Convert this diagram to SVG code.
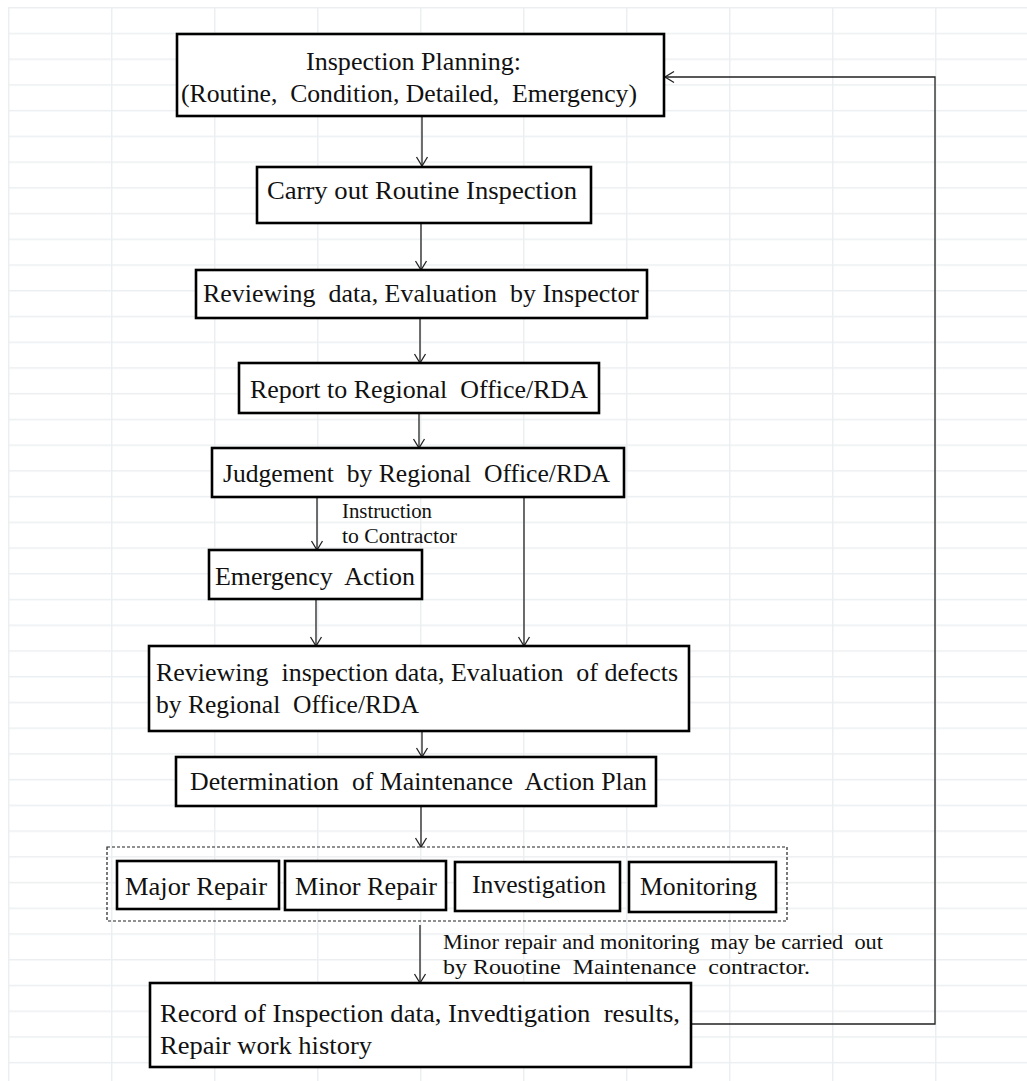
<svg xmlns="http://www.w3.org/2000/svg" width="1027" height="1081" viewBox="0 0 1027 1081" xml:space="preserve">
<defs>
<pattern id="grid" x="8" y="7" width="103" height="25.73" patternUnits="userSpaceOnUse">
<path d="M0.75,0 V25.73 M0,0.75 H103" stroke="#eceff1" stroke-width="1.5" fill="none"/>
</pattern>
<marker id="arr" viewBox="-11 -7 13 14" refX="0" refY="0" markerWidth="13" markerHeight="14" markerUnits="userSpaceOnUse" orient="auto">
<path d="M-9,-5.5 L0,0 L-9,5.5" fill="none" stroke="#222" stroke-width="1.3"/>
</marker>
</defs>
<style>
.box{fill:#fff;stroke:#000;stroke-width:2.6}
.t{font-family:"Liberation Serif","Times New Roman",serif;font-size:25.5px;fill:#111;white-space:pre}
.s{font-family:"Liberation Serif","Times New Roman",serif;font-size:20.5px;fill:#111;white-space:pre}
.c{fill:none;stroke:#222;stroke-width:1.3}
.dash{fill:none;stroke:#222;stroke-width:1.2;stroke-dasharray:3 2}
</style>
<rect x="0" y="0" width="1027" height="1081" fill="#fff"/>
<rect x="8" y="7" width="1019" height="1074" fill="url(#grid)"/>

<g id="connectors">
<path class="c" d="M422,116 V166" marker-end="url(#arr)"/>
<path class="c" d="M421,223 V270" marker-end="url(#arr)"/>
<path class="c" d="M420,318 V363" marker-end="url(#arr)"/>
<path class="c" d="M419,413 V448" marker-end="url(#arr)"/>
<path class="c" d="M317,497 V550" marker-end="url(#arr)"/>
<path class="c" d="M524,497 V646" marker-end="url(#arr)"/>
<path class="c" d="M316,599 V646" marker-end="url(#arr)"/>
<path class="c" d="M422,731 V757" marker-end="url(#arr)"/>
<path class="c" d="M421,806 V847" marker-end="url(#arr)"/>
<path class="c" d="M420,925 V983" marker-end="url(#arr)"/>
<path class="c" d="M691,1024 H935 V77 H665" marker-end="url(#arr)"/>
<text class="s" x="342" y="518" textLength="90" lengthAdjust="spacingAndGlyphs">Instruction</text>
<text class="s" x="342" y="543" textLength="115" lengthAdjust="spacingAndGlyphs">to Contractor</text>
<text class="s" x="443" y="949" textLength="440" lengthAdjust="spacingAndGlyphs">Minor repair and monitoring  may be carried  out</text>
<text class="s" x="443" y="974" textLength="367" lengthAdjust="spacingAndGlyphs">by Rouotine  Maintenance  contractor.</text>
</g>

<g id="n-planning">
<rect class="box" x="177" y="34" width="487" height="82"/>
<text class="t" x="306" y="70" textLength="215" lengthAdjust="spacingAndGlyphs">Inspection Planning:</text>
<text class="t" x="181" y="102" textLength="456" lengthAdjust="spacingAndGlyphs">(Routine,  Condition, Detailed,  Emergency)</text>
</g>

<g id="n-carry">
<rect class="box" x="257" y="167" width="334" height="56"/>
<text class="t" x="267" y="199" textLength="310" lengthAdjust="spacingAndGlyphs">Carry out Routine Inspection</text>
</g>

<g id="n-review-inspector">
<rect class="box" x="196" y="270" width="451" height="48"/>
<text class="t" x="203" y="302" textLength="436" lengthAdjust="spacingAndGlyphs">Reviewing  data, Evaluation  by Inspector</text>
</g>

<g id="n-report">
<rect class="box" x="239" y="363" width="360" height="50"/>
<text class="t" x="250" y="398" textLength="338" lengthAdjust="spacingAndGlyphs">Report to Regional  Office/RDA</text>
</g>

<g id="n-judgement">
<rect class="box" x="212" y="448" width="412" height="49"/>
<text class="t" x="223" y="482" textLength="387" lengthAdjust="spacingAndGlyphs">Judgement  by Regional  Office/RDA</text>
</g>

<g id="n-emergency">
<rect class="box" x="209" y="550" width="213" height="49"/>
<text class="t" x="215" y="585" textLength="200" lengthAdjust="spacingAndGlyphs">Emergency  Action</text>
</g>

<g id="n-review-regional">
<rect class="box" x="149" y="646" width="540" height="85"/>
<text class="t" x="156" y="681" textLength="522" lengthAdjust="spacingAndGlyphs">Reviewing  inspection data, Evaluation  of defects</text>
<text class="t" x="156" y="713" textLength="263" lengthAdjust="spacingAndGlyphs">by Regional  Office/RDA</text>
</g>

<g id="n-determination">
<rect class="box" x="176" y="757" width="480" height="49"/>
<text class="t" x="190" y="790" textLength="457" lengthAdjust="spacingAndGlyphs">Determination  of Maintenance  Action Plan</text>
</g>

<g id="n-actions">
<rect class="dash" x="107" y="847" width="680" height="74"/>
<g id="n-major">
<rect class="box" x="117" y="861" width="162" height="48"/>
<text class="t" x="125" y="895" textLength="142" lengthAdjust="spacingAndGlyphs">Major Repair</text>
</g>
<g id="n-minor">
<rect class="box" x="285" y="861" width="161" height="49"/>
<text class="t" x="295" y="895" textLength="142" lengthAdjust="spacingAndGlyphs">Minor Repair</text>
</g>
<g id="n-investigation">
<rect class="box" x="455" y="862" width="165" height="49"/>
<text class="t" x="472" y="893" textLength="134" lengthAdjust="spacingAndGlyphs">Investigation</text>
</g>
<g id="n-monitoring">
<rect class="box" x="629" y="862" width="147" height="50"/>
<text class="t" x="640" y="895" textLength="117" lengthAdjust="spacingAndGlyphs">Monitoring</text>
</g>
</g>

<g id="n-record">
<rect class="box" x="150" y="983" width="541" height="84"/>
<text class="t" x="160" y="1022" textLength="520" lengthAdjust="spacingAndGlyphs">Record of Inspection data, Invedtigation  results,</text>
<text class="t" x="160" y="1054" textLength="212" lengthAdjust="spacingAndGlyphs">Repair work history</text>
</g>
</svg>
